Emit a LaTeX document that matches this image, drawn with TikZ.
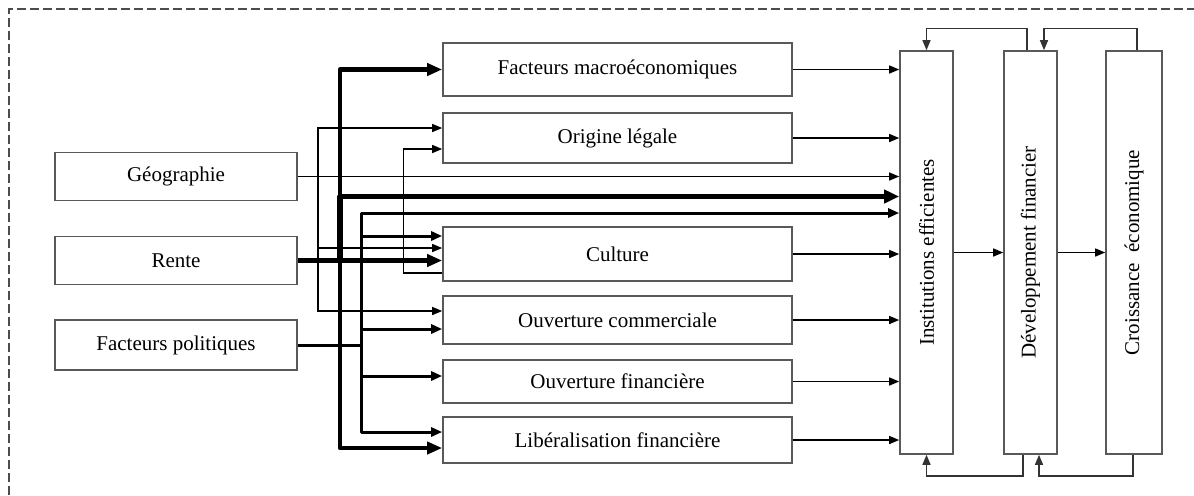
\documentclass[tikz,border=0pt]{standalone}
\usepackage{fontspec}
\setmainfont{Liberation Serif}
\usetikzlibrary{arrows.meta,calc}

\begin{document}
\begin{tikzpicture}[
	x = 0.5pt, y = -0.5pt,
	every node/.style = {font = \fontsize{10.5}{12}\selectfont},
	box/.style = {draw = black!65, line width = 0.8pt, rectangle, inner sep = 0pt},
	leftbox/.style = {box, minimum width = 121pt, minimum height = 24pt},
	midbox/.style = {box, minimum width = 174.5pt, minimum height = 25pt},
	tallbox/.style = {box, minimum width = 26.5pt, minimum height = 201.5pt},
	thinarr/.style = {line width = 0.7pt, -{Triangle[length = 5pt, width = 4pt]}},
	medline/.style = {line width = 1.5pt, line join = round},
	medarr/.style = {medline, -{Triangle[length = 5.5pt, width = 4.5pt]}},
	thickarr/.style = {line width = 2.4pt, line join = round, -{Triangle[length = 7.5pt, width = 6pt]}},
	thickerarr/.style = {line width = 2.8pt, line join = round, -{Triangle[length = 7.5pt, width = 6.5pt]}},
	loopline/.style = {line width = 0.7pt, draw = black!80},
	frame/.style = {draw = black!70, line width = 0.6pt, dash pattern = on 4.5pt off 2pt}
	]

	\useasboundingbox (0,0) rectangle (1194,495);
	\draw[frame] (9,495) -- (9,9) -- (1194,9);

	\node[leftbox] (geo) at (176,176.5) {Géographie};
	\node[leftbox] (rente) at (176,260.5) {Rente};
	\node[leftbox, minimum height = 25pt] (polit) at (176,345) {Facteurs politiques};

	\node[midbox, minimum height = 26.5pt] (macro) at (617.5,69.5) {Facteurs macroéconomiques};
	\node[midbox] (legal) at (617.5,138) {Origine légale};
	\node[midbox, minimum height = 27pt] (culture) at (617.5,254) {Culture};
	\node[midbox, minimum height = 24pt] (commerce) at (617.5,320) {Ouverture commerciale};
	\node[midbox, minimum height = 21.5pt] (ouvfin) at (617.5,381.5) {Ouverture financière};
	\node[midbox, minimum height = 23pt] (libfin) at (617.5,440) {Libéralisation financière};

	\node[tallbox] (inst) at (926.5,252.5) {\rotatebox{90}{Institutions efficientes}};
	\node[tallbox] (devfin) at (1030.5,252.5) {\rotatebox{90}{Développement financier}};
	\node[tallbox, minimum width = 28pt] (croiss) at (1134,252.5) {\rotatebox{90}{Croissance\ \ économique}};

	\coordinate (geobus) at (318,0);
	\coordinate (rentebus) at (340,0);
	\coordinate (politbus) at (361,0);

	\foreach \n in {macro,legal,culture,commerce,ouvfin,libfin}
		\draw[thinarr] (\n.east) -- (\n.east -| inst.west);

	\draw[thinarr] (geo.east) -- (geo.east -| inst.west);
	\draw[thinarr] (geobus |- geo.east) |- ([yshift=5pt]legal.west);
	\draw[thinarr] (geobus |- geo.east) |- ([yshift=3pt]culture.west);
	\draw[thinarr] (geobus |- geo.east) |- ([yshift=4.5pt]commerce.west);

	\draw[thickarr] (rente.east) -- (rente.east -| culture.west);
	\draw[thickarr] (rentebus |- rente.east) |- (macro.west);
	\draw[thickerarr] (rentebus |- rente.east) |- ([yshift=28pt]inst.west);
	\draw[thickarr] (rentebus |- rente.east) |- ([yshift=-4pt]libfin.west);

	\draw[medline] (polit.east) -- (politbus |- polit.east);
	\draw[medarr] (politbus |- polit.east) |- ([yshift=19.75pt]inst.west);
	\draw[medarr] (politbus |- polit.east) |- ([yshift=9pt]culture.west);
	\draw[medarr] (politbus |- polit.east) |- ([yshift=-4.5pt]commerce.west);
	\draw[medarr] (politbus |- polit.east) |- ([yshift=2.75pt]ouvfin.west);
	\draw[medarr] (politbus |- polit.east) |- ([yshift=4pt]libfin.west);

	\draw[thinarr] ([yshift=-9.5pt]culture.west) -| ([xshift=-19.5pt,yshift=-5.5pt]legal.west) -- ([yshift=-5.5pt]legal.west);

	\draw[thinarr] (inst.east) -- (devfin.west);
	\draw[thinarr] (devfin.east) -- (croiss.west);

	\draw[loopline, -{Triangle[length = 5pt, width = 4pt]}] ([xshift=-1.75pt]devfin.north) -- ++(0pt,11pt) -| (inst.north);
	\draw[loopline, -{Triangle[length = 5pt, width = 4pt]}] ([xshift=1.5pt]croiss.north) -- ++(0pt,11pt) -| ([xshift=6.75pt]devfin.north);
	\draw[loopline, -{Triangle[length = 5pt, width = 4pt]}] ([xshift=-3.75pt]devfin.south) -- ++(0pt,-10.5pt) -| (inst.south);
	\draw[loopline, -{Triangle[length = 5pt, width = 4pt]}] ([xshift=-0.5pt]croiss.south) -- ++(0pt,-10.5pt) -| ([xshift=4.25pt]devfin.south);

\end{tikzpicture}
\end{document}
